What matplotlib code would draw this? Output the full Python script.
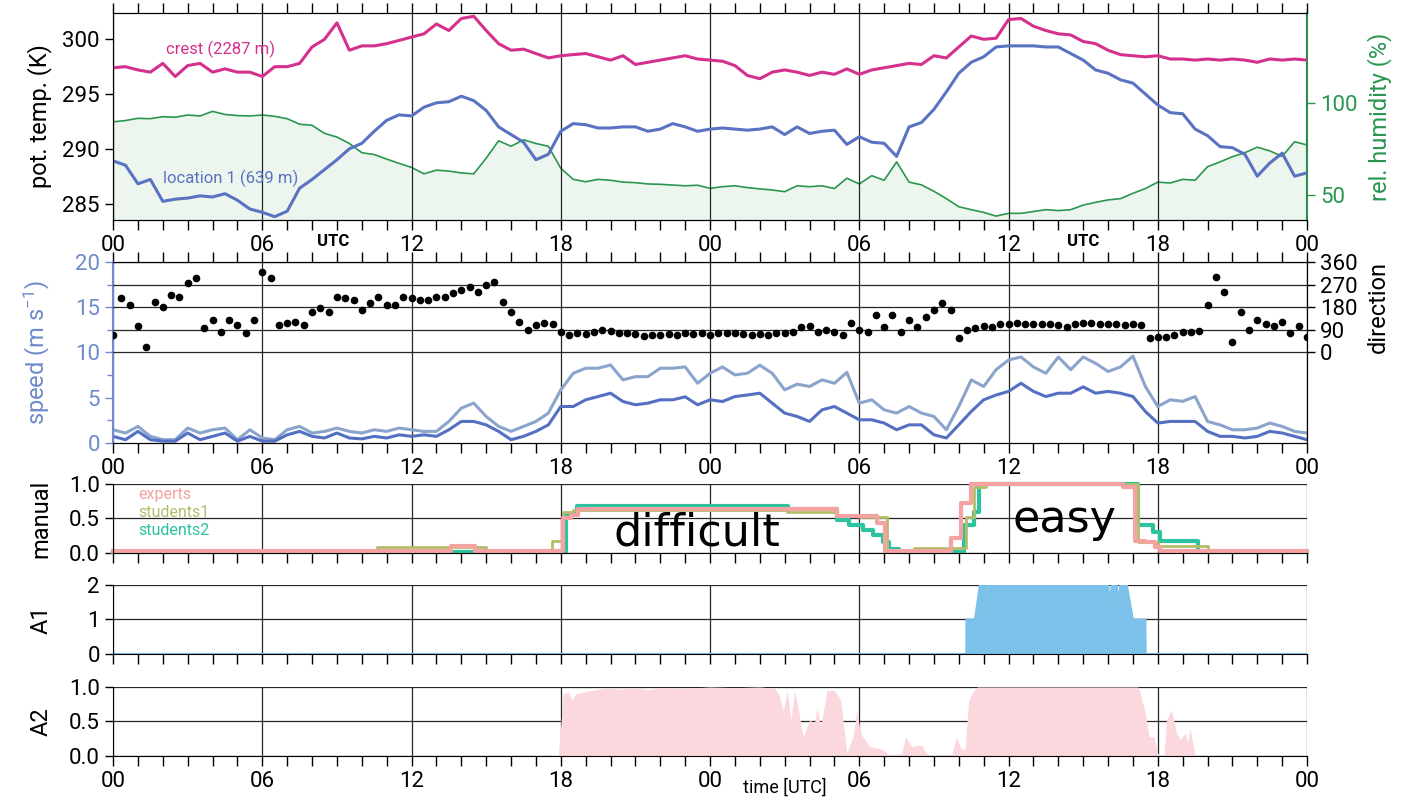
import numpy as np
import matplotlib
matplotlib.use('Agg')
import matplotlib.pyplot as plt
from matplotlib.ticker import MultipleLocator, FixedLocator

plt.rcParams['font.family'] = ['Roboto', 'DejaVu Sans']
plt.rcParams['mathtext.default'] = 'regular'

# ---- data (hours since 00 UTC of day 1) ----
major_hours = [0, 6, 12, 18, 24, 30, 36, 42, 48]
hour_labels = ['00', '06', '12', '18', '00', '06', '12', '18', '00']

# half-hourly values
theta_crest = [
    297.4, 297.5, 297.2, 297.0, 297.8, 296.6, 297.6, 297.8, 297.0, 297.3, 297.0, 297.0,
    296.6, 297.5, 297.5, 297.8, 299.3, 300.0, 301.5, 299.0, 299.4, 299.4, 299.6, 299.9,
    300.2, 300.5, 301.4, 300.8, 301.9, 302.1, 300.8, 299.6, 299.0, 299.1, 298.7, 298.3,
    298.5, 298.6, 298.7, 298.4, 298.1, 298.5, 297.7, 297.9, 298.1, 298.3, 298.5, 298.2,
    298.1, 298.0, 297.6, 296.7, 296.4, 297.0, 297.2, 297.0, 296.7, 297.0, 296.8, 297.3,
    296.8, 297.2, 297.4, 297.6, 297.8, 297.7, 298.5, 298.3, 299.3, 300.3, 300.0, 300.1,
    301.8, 301.9, 301.2, 300.8, 300.5, 300.4, 299.8, 299.6, 299.0, 298.6, 298.5, 298.4,
    298.5, 298.2, 298.2, 298.1, 298.2, 298.1, 298.2, 298.1, 297.9, 298.2, 298.1, 298.2,
    298.1]
theta_loc1 = [
    288.9, 288.5, 286.8, 287.2, 285.2, 285.4, 285.5, 285.7, 285.6, 285.9, 285.3, 284.5,
    284.2, 283.8, 284.3, 286.4, 287.2, 288.1, 289.0, 290.0, 290.5, 291.6, 292.6, 293.1,
    293.0, 293.8, 294.2, 294.3, 294.8, 294.4, 293.5, 292.0, 291.3, 290.6, 289.0, 289.5,
    291.6, 292.3, 292.2, 291.9, 291.9, 292.0, 292.0, 291.6, 291.8, 292.3, 292.0, 291.6,
    291.8, 291.9, 291.8, 291.7, 291.8, 292.0, 291.3, 292.0, 291.4, 291.6, 291.7, 290.4,
    291.1, 290.6, 290.5, 289.3, 292.0, 292.4, 293.6, 295.2, 296.9, 297.9, 298.4, 299.3,
    299.4, 299.4, 299.4, 299.3, 299.3, 298.7, 298.1, 297.2, 296.9, 296.3, 296.0, 295.0,
    294.0, 293.3, 293.2, 291.8, 291.2, 290.2, 290.1, 289.5, 287.5, 288.7, 289.6, 287.5,
    287.8]
rel_hum = [
    89.8, 90.5, 91.7, 91.5, 92.6, 92.3, 93.5, 93.0, 95.5, 93.8, 93.2, 93.0,
    93.5, 92.8, 91.5, 88.5, 87.9, 83.5, 81.5, 78.0, 73.0, 72.0, 69.5, 67.2,
    65.0, 61.5, 63.5, 63.0, 62.0, 61.5, 70.0, 79.5, 76.5, 80.0, 78.0, 76.5,
    64.5, 58.5, 57.2, 58.5, 58.0, 57.0, 56.7, 56.0, 55.8, 55.4, 55.0, 55.3,
    53.6, 54.5, 55.0, 54.0, 53.3, 52.7, 51.8, 55.0, 54.5, 55.0, 53.5, 59.1,
    56.0, 60.5, 58.0, 68.0, 57.0, 55.5, 52.0, 48.0, 43.6, 42.0, 40.5, 38.5,
    40.0, 40.0, 41.0, 42.0, 41.5, 42.0, 44.5, 46.0, 47.3, 48.0, 50.9, 53.5,
    57.0, 56.5, 58.5, 58.0, 65.4, 68.0, 70.8, 73.0, 76.0, 74.0, 71.0, 79.0,
    77.2]
wind_hi = [
    1.46, 1.1, 1.83, 0.73, 0.36, 0.36, 1.65, 1.1, 1.46, 1.65, 0.36, 1.46,
    0.55, 0.36, 1.46, 1.83, 1.1, 1.28, 1.65, 1.28, 1.1, 1.46, 1.28, 1.65,
    1.46, 1.28, 1.28, 2.38, 3.85, 4.4, 2.93, 1.83, 1.28, 1.83, 2.38, 3.3,
    5.87, 7.7, 8.26, 8.26, 8.62, 6.97, 7.33, 7.33, 8.26, 8.26, 8.4, 6.6,
    7.7, 8.4, 7.52, 7.7, 8.6, 7.7, 5.87, 6.5, 6.24, 6.97, 6.6, 7.8,
    4.4, 4.77, 3.66, 3.3, 4.03, 3.3, 2.93, 1.46, 4.03, 6.97, 6.24, 8.1,
    9.17, 9.5, 8.4, 7.7, 9.5, 8.1, 9.5, 8.8, 7.9, 8.4, 9.6, 6.24,
    4.03, 4.77, 4.6, 5.13, 2.38, 2.0, 1.46, 1.46, 1.65, 2.2, 1.83, 1.28,
    1.1]
wind_lo = [
    0.73, 0.36, 1.28, 0.36, 0.2, 0.2, 1.1, 0.36, 0.73, 1.1, 0.2, 0.73,
    0.2, 0.2, 0.9, 1.28, 0.73, 0.55, 1.1, 0.55, 0.45, 0.73, 0.55, 0.9,
    0.73, 0.9, 0.73, 1.46, 2.38, 2.38, 2.0, 1.28, 0.36, 0.73, 1.28, 2.0,
    4.03, 4.03, 4.77, 5.13, 5.5, 4.58, 4.22, 4.4, 4.77, 4.77, 5.1, 4.22,
    4.77, 4.58, 5.13, 5.3, 5.5, 4.4, 3.3, 2.93, 2.38, 3.66, 4.03, 3.3,
    2.56, 2.56, 2.2, 1.46, 2.0, 2.0, 0.9, 0.55, 2.0, 3.48, 4.77, 5.3,
    5.7, 6.6, 5.7, 5.13, 5.5, 5.5, 6.2, 5.5, 5.7, 5.5, 5.13, 3.48,
    2.2, 2.38, 2.38, 2.38, 1.28, 0.73, 0.73, 0.55, 0.73, 1.28, 1.1, 0.73,
    0.36]

# wind direction every 20 minutes (three values per hour)
wind_dir = [
    69, 215, 188, 105, 23, 201, 182, 228, 221, 275, 295, 96,
    129, 80, 129, 109, 76, 129, 320, 295, 109, 116, 122, 109,
    162, 175, 162, 221, 215, 208, 168, 195, 221, 188, 188, 221,
    218, 208, 208, 221, 221, 235, 248, 261, 241, 268, 281, 201,
    162, 122, 89, 109, 116, 113, 82, 69, 76, 72, 82, 89,
    86, 78, 76, 73, 67, 69, 69, 72, 69, 76, 72, 78,
    69, 76, 76, 78, 72, 69, 72, 69, 76, 78, 82, 100,
    105, 82, 89, 82, 69, 116, 89, 82, 149, 100, 149, 82,
    129, 102, 142, 168, 195, 168, 56, 89, 96, 105, 102, 112,
    113, 116, 113, 113, 112, 113, 109, 100, 113, 119, 116, 113,
    112, 113, 109, 112, 109, 56, 63, 63, 69, 82, 82, 86,
    188, 300, 241, 40, 162, 89, 129, 113, 105, 120, 76, 105,
    60]

# manual classification (step changes)
experts_t = [0, 13.6, 14.55, 18.1, 18.4, 18.7, 29.1, 30.7, 31.05, 33.7, 34.1, 34.5,
             40.6, 41.1, 41.5, 41.9, 42.1, 48]
experts_v = [0.03, 0.1, 0.03, 0.5, 0.55, 0.63, 0.53, 0.43, 0.03, 0.21, 0.72, 1.0,
             0.95, 0.18, 0.16, 0.09, 0.03, 0.03]
stud1_t = [0, 10.6, 15.0, 17.65, 18.1, 18.5, 27.1, 29.1, 30.0, 31.1, 32.2, 34.3,
           34.6, 35.1, 41.2, 42.0, 44.0, 48]
stud1_v = [0.03, 0.08, 0.03, 0.18, 0.6, 0.62, 0.6, 0.55, 0.52, 0.03, 0.07, 0.52,
           0.95, 1.0, 0.16, 0.1, 0.04, 0.04]
stud2_t = [0, 18.2, 18.65, 27.15, 29.1, 29.6, 30.15, 30.55, 30.95, 31.2, 31.6, 34.2,
           34.6, 34.8, 41.2, 41.8, 42.1, 43.6, 48]
stud2_v = [0.02, 0.57, 0.68, 0.63, 0.48, 0.4, 0.33, 0.26, 0.16, 0.06, 0.02, 0.4,
           0.6, 1.0, 0.4, 0.3, 0.18, 0.02, 0.02]

# algorithm 1 and 2 output
a1_t = [0, 34.3, 34.31, 34.65, 34.85, 35.0, 35.05, 35.1, 40.0, 40.08, 40.15, 40.35,
        40.42, 40.5, 40.75, 41.0, 41.5, 41.51, 48]
a1_v = [0, 0, 1, 1, 2, 2, 1.6, 2, 2, 1.5, 2, 2,
        1.5, 2, 2, 1, 1, 0, 0]
a2_t = [0, 17.9, 18.1, 18.3, 18.45, 18.6, 19.2, 19.8, 20.5, 21.0, 21.5, 22.0,
        23.0, 24.0, 25.0, 26.0, 26.6, 26.75, 26.95, 27.1, 27.25, 27.4, 27.75, 28.0,
        28.2, 28.3, 28.45, 28.7, 29.0, 29.25, 29.5, 29.75, 29.9, 30.05, 30.4, 30.9,
        31.2, 31.7, 31.85, 32.1, 32.5, 32.7, 33.0, 33.7, 33.9, 34.1, 34.25, 34.4,
        34.6, 34.75, 41.2, 41.3, 41.5, 41.65, 41.85, 42.0, 42.1, 42.25, 42.35, 42.55,
        42.75, 42.9, 43.1, 43.2, 43.3, 43.5, 48]
a2_v = [0, 0, 0.9, 0.93, 0.81, 0.9, 0.95, 0.98, 0.97, 0.99, 0.96, 0.99,
        0.98, 1.0, 0.99, 1.0, 0.98, 0.9, 0.66, 0.95, 0.52, 0.95, 0.28, 0.52,
        0.48, 0.7, 0.43, 0.95, 0.95, 0.81, 0.04, 0.28, 0.66, 0.33, 0.14, 0.1,
        0.02, 0.03, 0.28, 0.14, 0.16, 0.04, 0.0, 0.0, 0.28, 0.1, 0.1, 0.81,
        0.95, 1.0, 1.0, 0.9, 0.62, 0.28, 0.28, 0.04, 0.0, 0.0, 0.52, 0.67,
        0.33, 0.24, 0.33, 0.19, 0.4, 0.0, 0]

hours = np.arange(len(theta_crest)) * 0.5
hours_dir = np.arange(len(wind_dir)) / 3.0

# ---- colours ----
C_CREST = '#d5308e'
C_LOC = '#5a72c2'
C_RH = '#2a9650'
C_RHFILL = '#edf6ee'
C_WS_LO = '#5470c2'
C_WS_HI = '#8aa4cc'
C_SPEED = '#6f8bcb'
C_EXP = '#f4a2a2'
C_S1 = '#b4bd6c'
C_S2 = '#2dc3a0'
C_A1 = '#7bc1ea'
C_A2 = '#fbd8de'
GRID = '0.15'

fig = plt.figure(figsize=(14.08, 7.99), dpi=100)
L, W = 0.0803, 0.848
ax1 = fig.add_axes([L, 0.7247, W, 0.2590])
ax2 = fig.add_axes([L, 0.4456, W, 0.2265])
ax3 = fig.add_axes([L, 0.3079, W, 0.0864])
ax4 = fig.add_axes([L, 0.1815, W, 0.0864])
ax5 = fig.add_axes([L, 0.0538, W, 0.0864])


def time_axis(ax, labels, top):
    ax.set_xlim(0, 48)
    ax.xaxis.set_major_locator(FixedLocator(major_hours))
    ax.xaxis.set_minor_locator(MultipleLocator(1))
    ax.set_xticklabels(hour_labels if labels else [''] * len(major_hours))
    ax.tick_params(axis='x', which='both', direction='out', length=7, width=1,
                   top=top, labelsize=16, pad=4)
    ax.grid(True, axis='x', which='major', color=GRID, lw=0.9)


# ---- panel 1: potential temperature and humidity ----
ax1r = ax1.twinx()
ax1.set_zorder(ax1r.get_zorder() + 1)
ax1.patch.set_visible(False)
ax1r.fill_between(hours, rel_hum, 0, color=C_RHFILL, lw=0)
ax1r.plot(hours, rel_hum, color=C_RH, lw=1.2)
ax1r.set_ylim(36.4, 149)
ax1r.set_yticks([50, 100])
ax1r.tick_params(axis='y', colors=C_RH, labelsize=16, length=6, width=1)
ax1r.spines['right'].set_color(C_RH)
ax1r.spines['right'].set_linewidth(1.5)
ax1r.set_ylabel('rel. humidity (%)', color=C_RH, fontsize=17)
ax1r.yaxis.set_label_coords(1.0503, 0.5)
ax1.spines['right'].set_visible(False)

ax1.plot(hours, theta_crest, color=C_CREST, lw=2.2)
ax1.plot(hours, theta_loc1, color=C_LOC, lw=2.2)
ax1.set_ylim(283.5, 302.4)
ax1.set_yticks([285, 290, 295, 300])
ax1.tick_params(axis='y', labelsize=16, length=6, width=1)
ax1.set_ylabel('pot. temp. (K)', fontsize=17)
ax1.yaxis.set_label_coords(-0.051, 0.5)
time_axis(ax1, True, True)
ax1.text(4.3, 299.1, 'crest (2287 m)', color=C_CREST, fontsize=12,
         ha='center', va='center')
ax1.text(4.74, 287.27, 'location 1 (639 m)', color=C_LOC, fontsize=12,
         ha='center', va='center')
for h in (8.85, 39.0):
    ax1.text(h, -0.106, 'UTC', transform=ax1.get_xaxis_transform(),
             ha='center', va='center', fontsize=12, fontweight='bold')

# ---- panel 2: wind speed and direction ----
ax2.plot(hours, wind_hi, color=C_WS_HI, lw=2.2)
ax2.plot(hours, wind_lo, color=C_WS_LO, lw=2.2)
ax2.set_ylim(0, 20)
ax2.yaxis.set_major_locator(MultipleLocator(5))
ax2.yaxis.set_minor_locator(MultipleLocator(2.5))
ax2.tick_params(axis='y', which='both', colors=C_SPEED, labelsize=16, width=1)
ax2.tick_params(axis='y', which='major', length=6)
ax2.tick_params(axis='y', which='minor', length=4)
ax2.spines['left'].set_color(C_SPEED)
ax2.spines['left'].set_linewidth(1.5)
ax2.set_ylabel('speed (m s$^{-1}$)', color=C_SPEED, fontsize=17)
ax2.yaxis.set_label_coords(-0.051, 0.5)
time_axis(ax2, True, True)

ax2r = ax2.twinx()
ax2r.spines['left'].set_visible(False)
ax2r.plot(hours_dir, wind_dir, 'o', color='black', ms=4.5)
ax2r.set_ylim(-360, 360)
ax2r.set_yticks([0, 90, 180, 270, 360])
ax2r.grid(True, axis='y', color=GRID, lw=0.9)
ax2r.tick_params(axis='y', labelsize=16, length=6, width=1)
ax2r.set_ylabel('direction', fontsize=17)
ax2r.yaxis.set_label_coords(1.0503, 0.75)

# ---- panels 3-5 ----
for ax in (ax3, ax4, ax5):
    ax.spines['top'].set_visible(False)
    ax.spines['right'].set_visible(False)
    ax.set_axisbelow(True)
    ax.grid(True, axis='y', color=GRID, lw=0.9)
    ax.tick_params(axis='y', labelsize=16, length=6, width=1)
    ax.yaxis.set_label_coords(-0.051, 0.5)
time_axis(ax3, False, False)
time_axis(ax4, False, False)
time_axis(ax5, True, False)

ax3.step(stud2_t, stud2_v, where='post', color=C_S2, lw=3, clip_on=False)
ax3.step(stud1_t, stud1_v, where='post', color=C_S1, lw=2, clip_on=False)
ax3.step(experts_t, experts_v, where='post', color=C_EXP, lw=3, clip_on=False)
ax3.set_ylim(0, 1)
ax3.set_yticks([0, 0.5, 1.0], ['0.0', '0.5', '1.0'])
ax3.set_ylabel('manual', fontsize=17)
ax3.text(1.0, 0.84, 'experts', color=C_EXP, fontsize=11.5, va='center', zorder=0.8)
ax3.text(1.0, 0.59, 'students1', color=C_S1, fontsize=11.5, va='center', zorder=0.8)
ax3.text(1.0, 0.33, 'students2', color=C_S2, fontsize=11.5, va='center', zorder=0.8)
ax3.text(23.46, 0.11, 'difficult', fontsize=32, family='DejaVu Sans',
         ha='center', va='baseline')
ax3.text(38.23, 0.31, 'easy', fontsize=32, family='DejaVu Sans',
         ha='center', va='baseline')

ax4.fill_between(a1_t, a1_v, 0, color=C_A1, lw=0)
ax4.plot(a1_t, a1_v, color=C_A1, lw=1.5)
ax4.set_ylim(0, 2)
ax4.set_yticks([0, 1, 2])
ax4.set_ylabel('A1', fontsize=17)

ax5.fill_between(a2_t, a2_v, 0, color=C_A2, lw=0)
ax5.set_ylim(0, 1)
ax5.set_yticks([0, 0.5, 1.0], ['0.0', '0.5', '1.0'])
ax5.set_ylabel('A2', fontsize=17)
ax5.text(27.0, -0.45, 'time [UTC]', transform=ax5.get_xaxis_transform(),
         ha='center', va='center', fontsize=13)

fig.savefig('out.png', dpi=100)
